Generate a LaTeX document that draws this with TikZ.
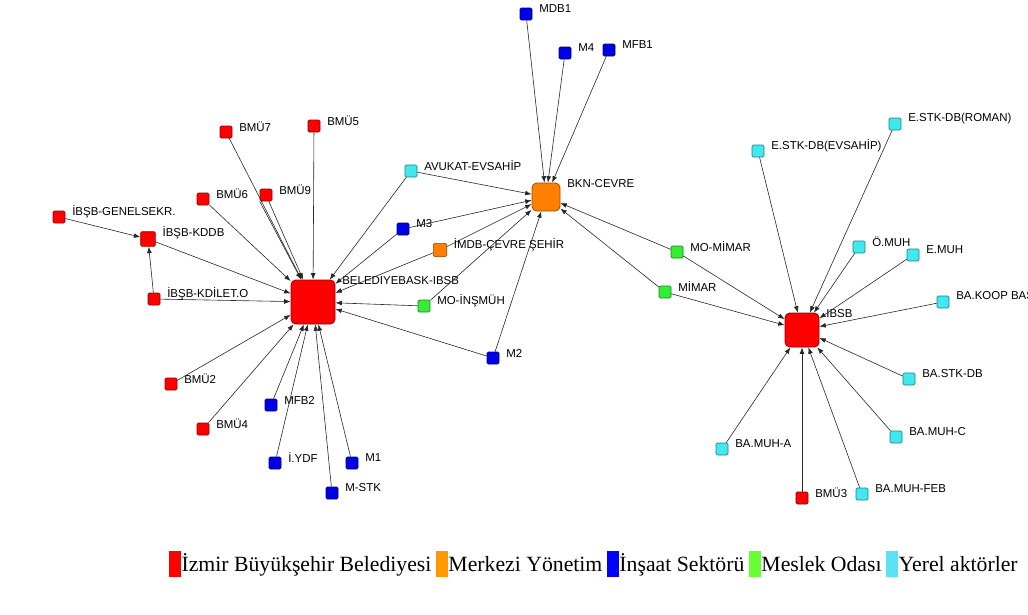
\documentclass[tikz,border=0pt]{standalone}
\usepackage{fontspec}
\setmainfont{Liberation Serif}
\newfontfamily\lblfont{Liberation Sans}
\usepackage{xcolor}
\usepackage{tikz}
\usetikzlibrary{arrows.meta, positioning}

\definecolor{ibbred}{HTML}{FF0000}
\definecolor{mrkorange}{HTML}{FF8000}
\definecolor{insblue}{HTML}{0000E6}
\definecolor{mslgreen}{HTML}{33EE33}
\definecolor{yrlcyan}{HTML}{40E8F0}
\definecolor{legorange}{HTML}{FF9900}
\definecolor{legblue}{HTML}{0000FF}
\definecolor{leggreen}{HTML}{66FF33}
\definecolor{legcyan}{HTML}{5CE1F2}

\begin{document}
\begin{tikzpicture}[x=0.75pt, y=-0.75pt,
  actor/.style={rectangle, draw=#1!55!black, fill=#1, rounded corners=1pt,
    minimum size=9pt, inner sep=0pt, line width=0.5pt},
  hub/.style={rectangle, draw=#1!60!black, fill=#1, rounded corners=3.5pt,
    inner sep=0pt, line width=0.6pt},
  lbl/.style={anchor=west, inner sep=0pt, xshift=5pt, yshift=-1pt,
    font=\lblfont\fontsize{8.6}{10}\selectfont},
  arr/.style={-{Latex[length=4.8pt,width=3.6pt]}, line width=0.45pt, draw=black!85},
  legsq/.style={rectangle, fill=#1, inner sep=0pt, minimum width=9pt, minimum height=19.5pt},
  legtxt/.style={inner sep=0pt, text height=13.5pt, text depth=3pt,
    font=\fontsize{16.3}{18}\selectfont}
]
  \useasboundingbox (0,0) rectangle (1028,614);

  % hubs
  \node[hub=ibbred, minimum size=33pt, label={[lbl]north east:BELEDIYEBASK-IBSB}] (ibb) at (313,302) {};
  \node[hub=mrkorange, minimum size=21pt, label={[lbl]north east:BKN-CEVRE}] (bkn) at (546,197) {};
  \node[hub=ibbred, minimum size=25.5pt, label={[lbl]north east:IBSB}] (ibsb) at (802,330) {};

  % left cluster
  \node[actor=ibbred, label={[lbl]north east:İBŞB-GENELSEKR.}] (genel) at (59,217) {};
  \node[actor=ibbred, minimum size=11pt, label={[lbl]north east:İBŞB-KDDB}] (kddb) at (148,239) {};
  \node[actor=ibbred, label={[lbl]north east:İBŞB-KDİLET.O}] (kdilet) at (154,299) {};
  \node[actor=ibbred, label={[lbl]north east:BMÜ7}] (bmu7) at (226,132) {};
  \node[actor=ibbred, label={[lbl]north east:BMÜ5}] (bmu5) at (314,126) {};
  \node[actor=ibbred, label={[lbl]north east:BMÜ6}] (bmu6) at (203,199) {};
  \node[actor=ibbred, label={[lbl]north east:BMÜ9}] (bmu9) at (266,195) {};
  \node[actor=ibbred, label={[lbl]north east:BMÜ2}] (bmu2) at (171,384) {};
  \node[actor=ibbred, label={[lbl]north east:BMÜ4}] (bmu4) at (203,429) {};
  \node[actor=insblue, label={[lbl]north east:MFB2}] (mfb2) at (271,405) {};
  \node[actor=insblue, label={[lbl]north east:İ.YDF}] (iydf) at (275,463) {};
  \node[actor=insblue, label={[lbl]north east:M1}] (m1) at (352,463) {};
  \node[actor=insblue, label={[lbl]north east:M-STK}] (mstk) at (332,493) {};

  % middle
  \node[actor=yrlcyan, label={[lbl]north east:AVUKAT-EVSAHİP}] (avukat) at (411,171) {};
  \node[actor=insblue, label={[lbl]north east:M3}] (m3) at (403,229) {};
  \node[actor=mrkorange, minimum size=10pt, label={[lbl]north east:İMDB-ÇEVRE ŞEHİR}] (imdb) at (440,250) {};
  \node[actor=mslgreen, label={[lbl]north east:MO-İNŞMÜH}] (moins) at (424,306) {};
  \node[actor=insblue, label={[lbl]north east:M2}] (m2) at (493,358) {};
  \node[actor=insblue, label={[lbl]north east:MDB1}] (mdb1) at (526,14) {};
  \node[actor=insblue, label={[lbl]north east:M4}] (m4) at (565,53) {};
  \node[actor=insblue, label={[lbl]north east:MFB1}] (mfb1) at (609,50) {};
  \node[actor=mslgreen, label={[lbl]north east:MO-MİMAR}] (momimar) at (677,252) {};
  \node[actor=mslgreen, label={[lbl]north east:MİMAR}] (mimar) at (665,292) {};

  % right cluster
  \node[actor=yrlcyan, label={[lbl]north east:E.STK-DB(EVSAHİP)}] (estkev) at (758,151) {};
  \node[actor=yrlcyan, label={[lbl]north east:E.STK-DB(ROMAN)}] (estkro) at (895,124) {};
  \node[actor=yrlcyan, label={[lbl]north east:Ö.MUH}] (omuh) at (859,247) {};
  \node[actor=yrlcyan, label={[lbl]north east:E.MUH}] (emuh) at (913,255) {};
  \node[actor=yrlcyan, label={[lbl]north east:BA.KOOP BAŞ}] (bakoop) at (943,302) {};
  \node[actor=yrlcyan, label={[lbl]north east:BA.STK-DB}] (bastk) at (909,379) {};
  \node[actor=yrlcyan, label={[lbl]north east:BA.MUH-C}] (bamuhc) at (896,437) {};
  \node[actor=yrlcyan, label={[lbl]north east:BA.MUH-A}] (bamuha) at (722,449) {};
  \node[actor=ibbred, label={[lbl]north east:BMÜ3}] (bmu3) at (802,498) {};
  \node[actor=yrlcyan, label={[lbl]north east:BA.MUH-FEB}] (bamuhfeb) at (862,494) {};

  % ties into ibb
  \draw[arr] (genel)  -- (kddb);
  \draw[arr] (kdilet) -- (kddb);
  \draw[arr] (kddb)   -- (ibb);
  \draw[arr] (kdilet) -- (ibb);
  \draw[arr] (bmu7)   -- (ibb);
  \draw[arr] (bmu5)   -- (ibb);
  \draw[arr] (bmu6)   -- (ibb);
  \draw[arr] (bmu9)   -- (ibb);
  \draw[arr] (bmu9.south west) -- (ibb);
  \draw[arr] (bmu2)   -- (ibb);
  \draw[arr] (bmu4)   -- (ibb);
  \draw[arr] (mfb2)   -- (ibb);
  \draw[arr] (iydf)   -- (ibb);
  \draw[arr] (mstk)   -- (ibb);
  \draw[arr] (m1)     -- (ibb);
  \draw[arr] (avukat) -- (ibb);
  \draw[arr] (m3)     -- (ibb);
  \draw[arr] (imdb)   -- (ibb);
  \draw[arr] (moins)  -- (ibb);
  \draw[arr] (m2)     -- (ibb);

  % ties into bkn
  \draw[arr] (mdb1)    -- (bkn);
  \draw[arr] (m4)      -- (bkn);
  \draw[arr] (mfb1)    -- (bkn);
  \draw[arr] (avukat)  -- (bkn);
  \draw[arr] (m3)      -- (bkn);
  \draw[arr] (imdb)    -- (bkn);
  \draw[arr] (moins)   -- (bkn);
  \draw[arr] (m2)      -- (bkn);
  \draw[arr] (momimar) -- (bkn);
  \draw[arr] (mimar)   -- (bkn);

  % ties into ibsb
  \draw[arr] (momimar)  -- (ibsb);
  \draw[arr] (mimar)    -- (ibsb);
  \draw[arr] (estkev)   -- (ibsb);
  \draw[arr] (estkro)   -- (ibsb);
  \draw[arr] (omuh)     -- (ibsb);
  \draw[arr] (emuh)     -- (ibsb);
  \draw[arr] (bakoop)   -- (ibsb);
  \draw[arr] (bastk)    -- (ibsb);
  \draw[arr] (bamuhc)   -- (ibsb);
  \draw[arr] (bamuhfeb) -- (ibsb);
  \draw[arr] (bmu3)     -- (ibsb);
  \draw[arr] (bamuha)   -- (ibsb);

  % legend
  \node[legsq=ibbred] (lsq1) at (175,564) {};
  \node[legtxt, right=0pt of lsq1] (ltx1) {İzmir Büyükşehir Belediyesi};
  \node[legsq=legorange, right=3pt of ltx1] (lsq2) {};
  \node[legtxt, right=0pt of lsq2] (ltx2) {Merkezi Yönetim};
  \node[legsq=legblue, right=3pt of ltx2] (lsq3) {};
  \node[legtxt, right=0pt of lsq3] (ltx3) {İnşaat Sektörü};
  \node[legsq=leggreen, right=3pt of ltx3] (lsq4) {};
  \node[legtxt, right=0pt of lsq4] (ltx4) {Meslek Odası};
  \node[legsq=legcyan, right=3pt of ltx4] (lsq5) {};
  \node[legtxt, right=0pt of lsq5] (ltx5) {Yerel aktörler};
\end{tikzpicture}
\end{document}
